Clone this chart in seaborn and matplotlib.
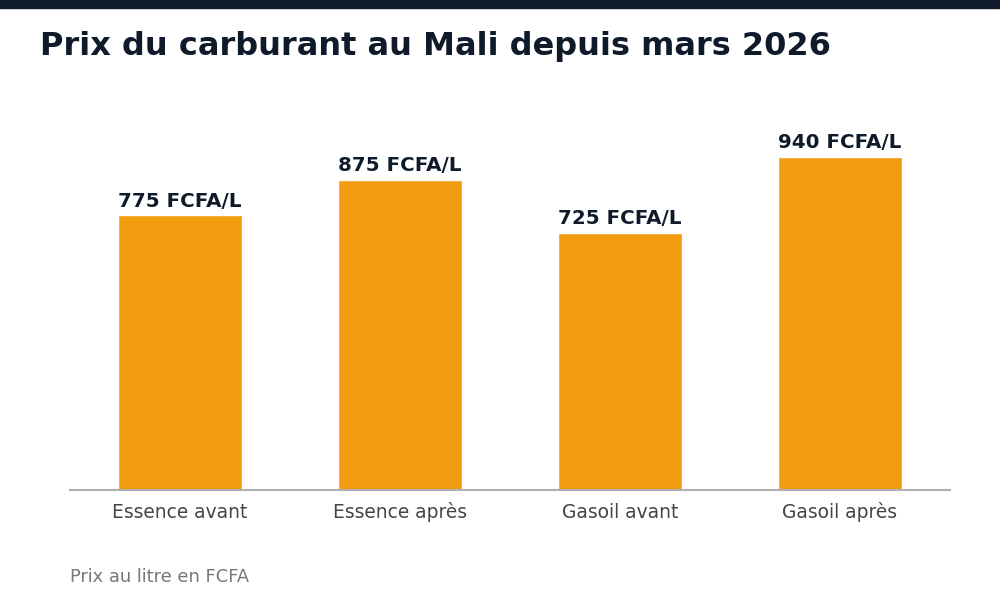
import matplotlib
matplotlib.use("Agg")
import matplotlib.pyplot as plt
import seaborn as sns
import pandas as pd

categories = ["Essence avant", "Essence après", "Gasoil avant", "Gasoil après"]
values = [775, 875, 725, 940]
labels = [f"{v} FCFA/L" for v in values]

sns.set_theme(style="white")
plt.rcParams['font.family'] = 'sans-serif'
plt.rcParams['font.sans-serif'] = ['DejaVu Sans']
FONT = ['DejaVu Sans']

fig = plt.figure(figsize=(10, 6), dpi=100)
fig.patch.set_facecolor("white")

# top dark band
fig.patches.append(plt.Rectangle((0, 1 - 8/600), 1, 8/600, transform=fig.transFigure,
                                 color="#0f1b2b", zorder=10))

ax = fig.add_axes([0.07, 1 - 490/600, 0.88, (490 - 97) / 600])
df = pd.DataFrame({"cat": categories, "val": values})
sns.barplot(data=df, x="cat", y="val", color="#f39c0f", saturation=1, width=0.56, ax=ax)

ax.set_xlim(-0.5, 3.5)
ax.set_ylim(0, 1109)
for p, lab in zip(ax.patches, labels):
    ax.annotate(lab, (p.get_x() + p.get_width() / 2, p.get_height()),
                xytext=(0, 3.3), textcoords="offset points", ha="center", va="bottom",
                fontsize=14.3, fontweight="bold", color="#0f1b2b", family=FONT)

for s in ["top", "right", "left"]:
    ax.spines[s].set_visible(False)
ax.spines["bottom"].set_color("#b0b0b0")
ax.spines["bottom"].set_linewidth(1.5)
ax.set_yticks([])
ax.set_xlabel("")
ax.set_ylabel("")
ax.tick_params(axis="x", length=0, pad=9, labelsize=13.4, labelcolor="#444444")
for t in ax.get_xticklabels():
    t.set_family(FONT)

fig.text(0.04, 1 - 46.5/600, "Prix du carburant au Mali depuis mars 2026", fontsize=23,
         fontweight="bold", color="#0f1b2b", va="center", ha="left", family=FONT)
fig.text(0.07, 1 - 577/600, "Prix au litre en FCFA", fontsize=12.9, color="#777777",
         va="center", ha="left", family=FONT)

fig.savefig("out.png", dpi=100)
